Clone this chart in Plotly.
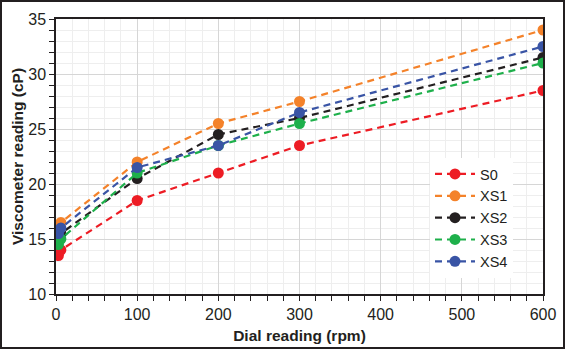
import plotly.graph_objects as go

rpm = [3, 6, 100, 200, 300, 600]
series_names = ["S0", "XS1", "XS2", "XS3", "XS4"]
s0 = [13.5, 14.0, 18.5, 21.0, 23.5, 28.5]
xs1 = [16.0, 16.5, 22.0, 25.5, 27.5, 34.0]
xs2 = [15.0, 15.5, 20.5, 24.5, 26.0, 31.5]
xs3 = [14.5, 15.0, 21.0, 23.5, 25.5, 31.0]
xs4 = [15.5, 16.0, 21.5, 23.5, 26.5, 32.5]
values = [s0, xs1, xs2, xs3, xs4]
colors = ["#ED1C24", "#F4822A", "#231F20", "#1EB04B", "#3954A5"]

W, H = 566, 352
L, R, T, B = 56, 23, 19, 58
pw, ph = W - L - R, H - T - B


def px_x(p):
    return (p - L) / pw


def px_y(p):
    return (T + ph - p) / ph


fig = go.Figure()
for name, vals, c in zip(series_names, values, colors):
    fig.add_trace(go.Scatter(
        x=rpm, y=vals, name=name, mode="lines+markers",
        line=dict(color=c, width=2.2, dash="7px,5px"),
        marker=dict(color=c, size=11),
    ))

font = "Liberation Sans, Arial, sans-serif"
fig.update_layout(
    width=W, height=H,
    margin=dict(l=L, r=R, t=T, b=B),
    paper_bgcolor="white", plot_bgcolor="white",
    font=dict(family=font, color="#231F20", size=16),
    showlegend=True,
    legend=dict(x=px_x(430), y=px_y(158), xanchor="left", yanchor="top",
                bgcolor="white", borderwidth=0, font=dict(size=14.5),
                itemwidth=40, tracegroupgap=0),
    xaxis=dict(range=[0, 600], dtick=100, tick0=0, automargin=False,
               showline=True, mirror=True, linecolor="#231F20", linewidth=1.5,
               ticks="outside", ticklen=5, tickcolor="#231F20",
               showgrid=True, gridcolor="#D6D6D6", gridwidth=1, zeroline=False,
               minor=dict(dtick=20, ticks="outside", ticklen=5, tickcolor="#231F20",
                          showgrid=True, gridcolor="#EEEEEE", gridwidth=1),
               title=dict(text="<b>Dial reading (rpm)</b>", font=dict(size=15.5), standoff=8),
               tickfont=dict(size=16)),
    yaxis=dict(range=[10, 35], dtick=5, tick0=10, automargin=False,
               showline=True, mirror=True, linecolor="#231F20", linewidth=1.5,
               ticks="outside", ticklen=5, tickcolor="#231F20",
               showgrid=True, gridcolor="#D6D6D6", gridwidth=1, zeroline=False,
               minor=dict(dtick=1, ticks="outside", ticklen=5, tickcolor="#231F20",
                          showgrid=True, gridcolor="#EEEEEE", gridwidth=1),
               title=dict(text="<b>Viscometer reading (cP)</b>", font=dict(size=15.5), standoff=1),
               tickfont=dict(size=16)),
    shapes=[dict(type="rect", xref="paper", yref="paper",
                 x0=px_x(1), x1=px_x(564),
                 y0=px_y(348), y1=px_y(1),
                 line=dict(color="#231F20", width=2), layer="above")],
)

fig.write_html("out.html")
